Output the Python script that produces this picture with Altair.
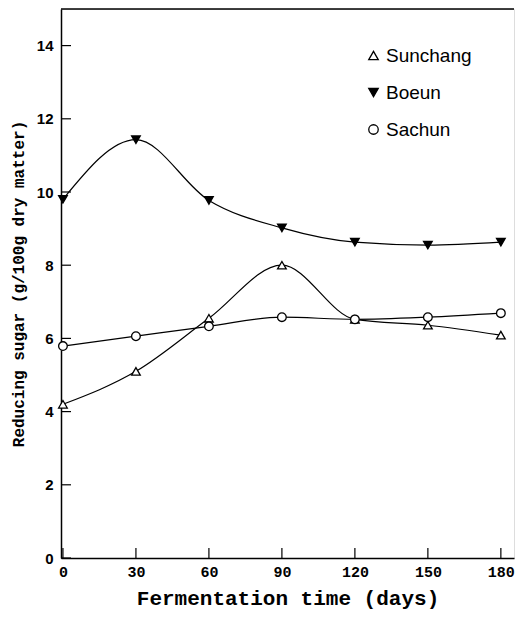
import altair as alt
import pandas as pd

days = [0, 30, 60, 90, 120, 150, 180]
sunchang = [4.2, 5.1, 6.55, 8.0, 6.52, 6.36, 6.09]
boeun = [9.8, 11.43, 9.77, 9.02, 8.63, 8.55, 8.63]
sachun = [5.79, 6.06, 6.33, 6.58, 6.52, 6.58, 6.69]
series = ["Sunchang", "Boeun", "Sachun"]
x_ticks = [0, 30, 60, 90, 120, 150, 180]
y_ticks = [0, 2, 4, 6, 8, 10, 12, 14]

rows = []
for name, vals in zip(series, [sunchang, boeun, sachun]):
    for d, v in zip(days, vals):
        rows.append({"day": d, "value": v, "site": name})
df = pd.DataFrame(rows)

X0, X1 = -0.8, 185.4
xs = alt.Scale(domain=[X0, X1], nice=False, zero=False)
ys = alt.Scale(domain=[0, 15], nice=False)

mono = "Liberation Mono"

x_enc = alt.X("day:Q", scale=xs,
              axis=alt.Axis(values=x_ticks, ticks=False, grid=False,
                            title="Fermentation time (days)",
                            labelFont=mono, labelFontSize=15, labelFontWeight="bold",
                            labelColor="black", labelPadding=6,
                            titleFont=mono, titleFontSize=21, titleFontWeight="bold",
                            titleColor="black", titlePadding=8,
                            domainColor="black", domainWidth=1.5))
y_enc = alt.Y("value:Q", scale=ys,
              axis=alt.Axis(values=y_ticks, ticks=False, grid=False,
                            title="Reducing sugar (g/100g dry matter)",
                            labelFont="Liberation Sans", labelFontSize=15, labelFontWeight="bold",
                            labelColor="black", labelPadding=8,
                            titleFont=mono, titleFontSize=16,
                            titleColor="black", titlePadding=10,
                            domainColor="black", domainWidth=1.5))

lines = alt.Chart(df).mark_line(color="black", strokeWidth=1.2, interpolate="monotone").encode(
    x=x_enc, y=y_enc, detail="site:N")

points = alt.Chart(df).mark_point(size=75, strokeWidth=1.3, opacity=1, filled=False).encode(
    x=alt.X("day:Q", scale=xs),
    y=alt.Y("value:Q", scale=ys),
    shape=alt.Shape("site:N",
                    scale=alt.Scale(domain=series, range=["triangle-up", "triangle-down", "circle"]),
                    legend=alt.Legend(title=None, orient="none", legendX=303, legendY=37,
                                      labelFont="Liberation Sans", labelFontSize=19,
                                      labelColor="black", symbolSize=90, rowPadding=17,
                                      symbolStrokeWidth=1.3, labelOffset=3)),
    fill=alt.Fill("site:N",
                  scale=alt.Scale(domain=series, range=["white", "black", "white"])),
    stroke=alt.Stroke("site:N",
                      scale=alt.Scale(domain=series, range=["black", "black", "black"])),
)

tick_df_x = pd.DataFrame({"t": x_ticks})
tick_df_y = pd.DataFrame({"t": y_ticks})

xt = alt.Chart(tick_df_x).mark_rule(color="black", strokeWidth=1.2).encode(
    x=alt.X("t:Q", scale=xs), y=alt.Y("zero:Q", scale=ys), y2=alt.Y2("tk:Q")
).transform_calculate(zero="0", tk="0.27")
yt = alt.Chart(tick_df_y).mark_rule(color="black", strokeWidth=1.2).encode(
    y=alt.Y("t:Q", scale=ys), x=alt.X("zero:Q", scale=xs), x2=alt.X2("tk:Q")
).transform_calculate(zero=str(X0), tk="3.3")
top = alt.Chart(pd.DataFrame({"a": [X0], "b": [X1], "c": [15]})).mark_rule(
    color="black", strokeWidth=1.5).encode(
    x=alt.X("a:Q", scale=xs), x2=alt.X2("b:Q"), y=alt.Y("c:Q", scale=ys))

chart = alt.layer(lines, xt, yt, top, points).properties(
    width=507, height=604,
    autosize=alt.AutoSizeParams(type="fit", contains="padding"),
    padding={"left": 2, "top": 0, "right": 0, "bottom": 4}
).configure_view(stroke=None).configure(background="white")

chart.save("out.html", embed_options={"renderer": "svg", "actions": False})
